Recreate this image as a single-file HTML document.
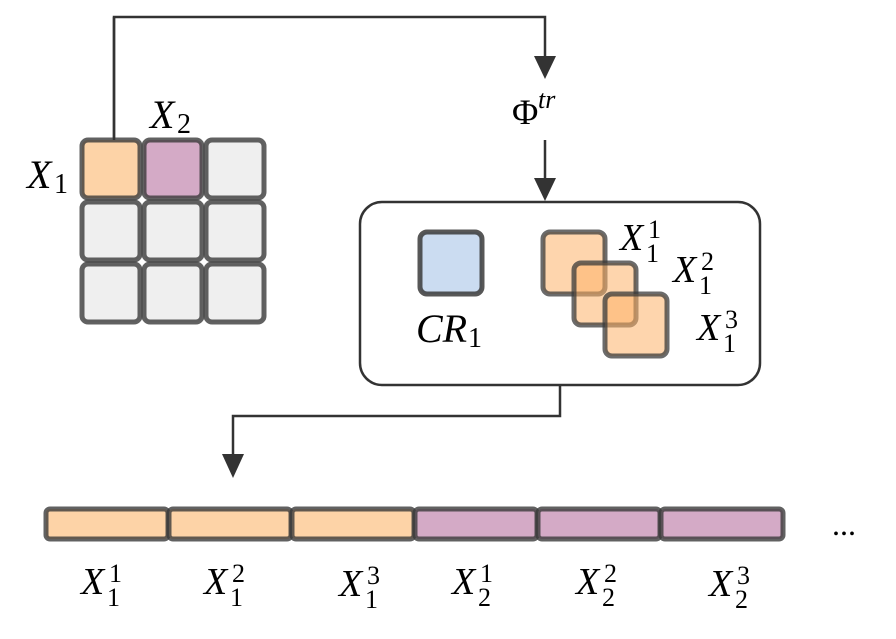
<!DOCTYPE html>
<html><head><meta charset="utf-8"><style>
html,body{margin:0;padding:0;background:#fff;width:896px;height:639px;overflow:hidden}
svg text{font-family:"Liberation Serif","DejaVu Serif",serif;fill:#000}
.i{font-style:italic}
</style></head><body>
<svg width="896" height="639" viewBox="0 0 896 639" xmlns="http://www.w3.org/2000/svg" font-family="Liberation Serif, DejaVu Serif, serif">
<g stroke="#333" stroke-width="2.5" fill="none">
<polyline points="114,138 114,17 545,17 545,60"/>
<line x1="545" y1="140" x2="545" y2="182"/>
<polyline points="560,385 560,416 233,416 233,458"/>
</g>
<g fill="#333">
<polygon points="534,56 556,56 545,79"/>
<polygon points="534,178 556,178 545,201"/>
<polygon points="222,454 244,454 233,478"/>
</g>
<g stroke="#3a3a3a" stroke-opacity="0.8" stroke-width="5">
<rect x="82" y="140" width="58" height="58" rx="6" fill="#fdd3a7"/>
<rect x="144" y="140" width="58" height="58" rx="6" fill="#d4aac6"/>
<rect x="206" y="140" width="58" height="58" rx="6" fill="#efefef"/>
<rect x="82" y="202" width="58" height="58" rx="6" fill="#efefef"/>
<rect x="144" y="202" width="58" height="58" rx="6" fill="#efefef"/>
<rect x="206" y="202" width="58" height="58" rx="6" fill="#efefef"/>
<rect x="82" y="264" width="58" height="58" rx="6" fill="#efefef"/>
<rect x="144" y="264" width="58" height="58" rx="6" fill="#efefef"/>
<rect x="206" y="264" width="58" height="58" rx="6" fill="#efefef"/>
</g>
<line x1="114" y1="17" x2="114" y2="140" stroke="#333" stroke-width="2.5"/>
<text x="27" y="188" font-size="40" class="i">X</text><text x="54" y="193" font-size="28">1</text>
<text x="150" y="128" font-size="40" class="i">X</text><text x="177" y="133" font-size="28">2</text>
<text x="512" y="124" font-size="36">Φ</text><text x="538" y="108" font-size="26" class="i">tr</text>
<rect x="360" y="202" width="400" height="183" rx="22" fill="#fff" stroke="#333" stroke-width="2.5"/>
<rect x="420" y="232" width="62" height="62" rx="7" fill="#cbdcf1" stroke="#3a3a3a" stroke-opacity="0.85" stroke-width="5"/>
<g stroke="#3a3a3a" stroke-opacity="0.75" stroke-width="5" fill="#fdb26a" fill-opacity="0.55">
<rect x="543" y="232" width="62" height="62" rx="7"/>
<rect x="574" y="263" width="62" height="62" rx="7"/>
<rect x="605" y="294" width="62" height="62" rx="7"/>
</g>
<text x="416" y="342" font-size="40" class="i">CR</text><text x="468" y="347" font-size="28">1</text>
<g font-size="38">
<text x="620" y="250" class="i">X</text><text x="646" y="262" font-size="26">1</text><text x="648" y="238" font-size="26">1</text>
<text x="673" y="282" class="i">X</text><text x="699" y="294" font-size="26">1</text><text x="701" y="270" font-size="26">2</text>
<text x="697" y="340" class="i">X</text><text x="723" y="352" font-size="26">1</text><text x="725" y="328" font-size="26">3</text>
</g>
<g stroke="#3a3a3a" stroke-opacity="0.8" stroke-width="5">
<rect x="46" y="509" width="122" height="30" rx="4" fill="#fdd3a7"/>
<rect x="169" y="509" width="122" height="30" rx="4" fill="#fdd3a7"/>
<rect x="292" y="509" width="122" height="30" rx="4" fill="#fdd3a7"/>
<rect x="415" y="509" width="122" height="30" rx="4" fill="#d4aac6"/>
<rect x="538" y="509" width="122" height="30" rx="4" fill="#d4aac6"/>
<rect x="661" y="509" width="122" height="30" rx="4" fill="#d4aac6"/>
</g>
<text x="832" y="535" font-size="32">...</text>
<g font-size="38">
<text x="81" y="594" class="i">X</text><text x="107" y="606" font-size="26">1</text><text x="109" y="582" font-size="26">1</text>
<text x="204" y="594" class="i">X</text><text x="230" y="606" font-size="26">1</text><text x="232" y="582" font-size="26">2</text>
<text x="339" y="596" class="i">X</text><text x="365" y="608" font-size="26">1</text><text x="367" y="584" font-size="26">3</text>
<text x="452" y="594" class="i">X</text><text x="478" y="606" font-size="26">2</text><text x="480" y="582" font-size="26">1</text>
<text x="576" y="594" class="i">X</text><text x="602" y="606" font-size="26">2</text><text x="604" y="582" font-size="26">2</text>
<text x="709" y="596" class="i">X</text><text x="735" y="608" font-size="26">2</text><text x="737" y="584" font-size="26">3</text>
</g>
</svg>
</body></html>
